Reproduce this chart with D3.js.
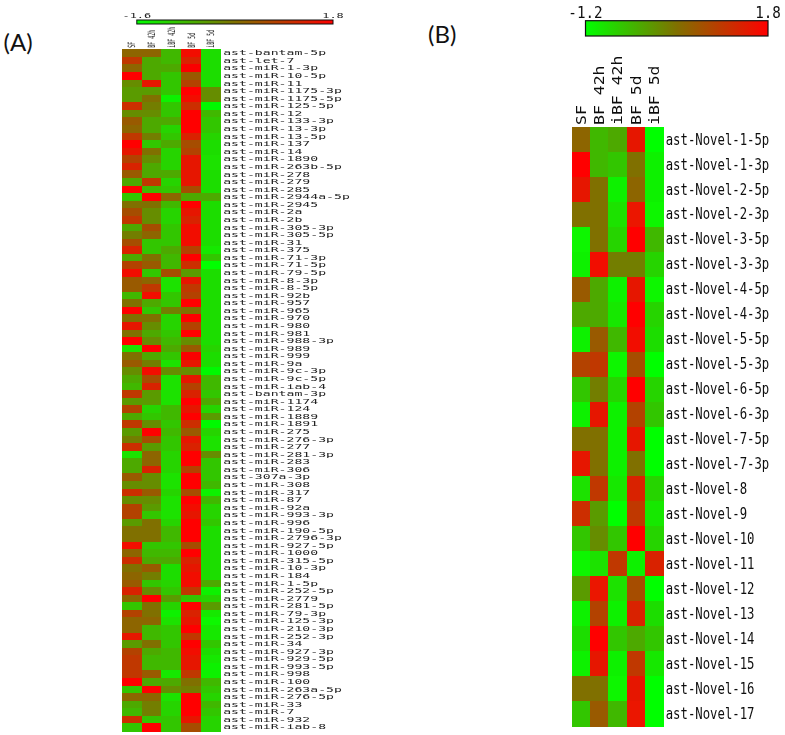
<!DOCTYPE html>
<html><head><meta charset="utf-8">
<script src="https://cdn.jsdelivr.net/npm/d3@7"></script>
<style>html,body{margin:0;padding:0;background:#fff}svg{display:block}</style>
</head><body><svg id="c" width="785" height="735"></svg>
<script>
const samples = ["SF","BF 42h","iBF 42h","BF 5d","iBF 5d"];
const domainA = [-1.6,1.8];
const domainB = [-1.2,1.8];
const mirnaA = ["bantam-5p","let-7","miR-1-3p","miR-10-5p","miR-11","miR-1175-3p","miR-1175-5p","miR-125-5p","miR-12","miR-133-3p","miR-13-3p","miR-13-5p","miR-137","miR-14","miR-1890","miR-263b-5p","miR-278","miR-279","miR-285","miR-2944a-5p","miR-2945","miR-2a","miR-2b","miR-305-3p","miR-305-5p","miR-31","miR-375","miR-71-3p","miR-71-5p","miR-79-5p","miR-8-3p","miR-8-5p","miR-92b","miR-957","miR-965","miR-970","miR-980","miR-981","miR-988-3p","miR-989","miR-999","miR-9a","miR-9c-3p","miR-9c-5p","miR-iab-4","bantam-3p","miR-1174","miR-124","miR-1889","miR-1891","miR-275","miR-276-3p","miR-277","miR-281-3p","miR-283","miR-306","307a-3p","miR-308","miR-317","miR-87","miR-92a","miR-993-3p","miR-996","miR-190-5p","miR-2796-3p","miR-927-5p","miR-1000","miR-315-5p","miR-10-3p","miR-184","miR-1-5p","miR-252-5p","miR-2779","miR-281-5p","miR-79-3p","miR-125-3p","miR-210-3p","miR-252-3p","miR-34","miR-927-3p","miR-929-5p","miR-993-5p","miR-998","miR-100","miR-263a-5p","miR-276-5p","miR-33","miR-7","miR-932","miR-iab-8"].map(d=>"ast-"+d);
const novelB = ["1-5p","1-3p","2-5p","2-3p","3-5p","3-3p","4-5p","4-3p","5-5p","5-3p","6-5p","6-3p","7-5p","7-3p","8","9","10","11","12","13","14","15","16","17"].map(d=>"ast-Novel-"+d);
const valuesA = [
[.27,.27,-.75,1.63,-1.19],[.95,-.58,-.75,1.29,-1.19],[.27,-.58,-.58,1.73,-1.19],[1.8,-.58,-.92,.44,-1.19],[-.24,1.46,-.92,.78,-1.19],
[-.41,-.41,-.92,1.8,-.24],[-.41,.1,-1.43,1.63,-.24],[1.12,-.07,-.92,1.12,-1.53],[-.24,-.24,-.92,1.8,-.75],[.44,-.58,-.58,1.8,-.92],
[.27,-.58,-1.09,1.8,-.92],[.95,-.07,-.92,1.29,-1.09],[1.8,-.92,-.58,.61,-1.19],[1.46,.1,-1.09,.78,-1.19],[.78,-.24,-1.09,1.46,-1.26],
[1.29,-.58,-1.09,1.46,-1.26],[.44,-.58,-.58,1.46,-1.19],[-.58,.95,-1.09,1.46,-1.19],[1.8,-.75,-.92,.61,-1.19],[-.92,1.8,.27,-.58,-.58],
[.1,.1,-.75,1.8,-1.19],[.61,-.24,-1.09,1.46,-1.19],[.95,-.24,-1.09,1.29,-1.19],[-.58,.61,-.92,1.63,-1.19],[-.07,.27,-.92,1.63,-1.19],
[.61,-.92,-.92,1.63,-1.19],[1.29,-.92,-.58,.78,-1.33],[-.58,.1,-.75,1.8,-.92],[.78,.44,-.75,1.12,-1.6],[1.63,-.92,.61,-.41,-1.19],
[.44,.27,-1.26,1.46,-1.19],[.44,.95,-1.26,.95,-1.19],[-.75,1.63,-.92,.78,-1.19],[.1,-.58,-.92,1.8,-1.19],[1.8,-.92,-.07,.1,-1.19],
[.1,.1,-1.09,1.8,-1.19],[1.46,-.24,-1.09,.78,-1.19],[.1,-.58,-.92,1.8,-1.19],[1.8,-.24,-.75,-.24,-1.19],[-1.26,1.8,-.58,.44,-1.09],
[.1,-.58,-.92,1.73,-1.19],[.44,-.07,-1.26,1.46,-1.19],[-.24,1.63,-.24,-.24,-1.53],[-.58,.61,-1.26,1.46,-.75],[-.75,1.29,-1.26,.78,-.75],
[.95,-.41,-1.26,1.29,-.92],[-.41,-.41,-1.26,1.8,-.58],[.78,-1.09,-.75,1.46,-1.09],[-.58,-.92,-.75,1.8,-.41],[.95,-.24,-.92,1.12,-1.53],
[-.41,1.8,-.75,.44,-1.09],[-.07,.61,-.92,1.46,-1.26],[1.12,-.41,-.92,1.29,-1.26],[-1.26,.27,-1.09,1.8,-.24],[-.58,.27,-1.09,1.8,-.92],
[-.58,1.29,-1.09,.78,-.92],[.44,-.24,-1.26,1.8,-.92],[-.24,-.24,-1.26,1.8,-.75],[1.12,.44,-1.09,.61,-1.43],[-.24,-.24,-1.26,1.8,-.75],
[.78,-.41,-1.26,1.63,-1.09],[.78,-.92,-1.26,1.46,-1.09],[-.41,.1,-1.09,1.8,-.92],[.1,.1,-.75,1.8,-1.19],[.1,.1,-.75,1.8,-1.19],
[1.63,-.92,-.92,.61,-1.19],[.27,-.75,-.75,1.8,-1.19],[1.12,-.58,-.58,1.29,-1.19],[.1,.44,-1.19,1.46,-1.19],[.27,-.07,-1.19,1.63,-1.19],
[.44,-.92,-1.09,1.63,-.58],[1.29,-.24,-.92,.95,-1.43],[.27,1.8,-.41,-.92,-1.09],[-.92,.1,-1.09,1.8,-.41],[.78,.1,-1.43,1.29,-1.33],
[.27,.27,-1.26,1.46,-1.5],[.27,-.75,-.92,1.8,-1.33],[1.46,-.75,-.92,.95,-1.33],[-.41,.1,-.92,1.8,-.92],[.78,-.58,-.75,1.63,-1.19],
[.95,-.75,-.75,1.46,-1.33],[.95,-.75,-.75,1.46,-1.43],[.95,.44,-1.33,.95,-1.43],[1.8,-.58,-.58,.1,-.75],[-.92,1.8,-.24,-.07,-.92],
[.27,.27,-1.26,1.8,-1.09],[-.58,-.07,-1.09,1.8,-.75],[-.75,-.07,-1.09,1.8,-.92],[1.12,-.92,-.92,1.46,-1.09],[-.92,1.8,-.92,.61,-1.09]
];
const valuesB = [
[.45,-.45,-.3,1.5,-1.2],[1.8,-.45,-.6,.3,-1.05],[1.5,.3,-1.05,.45,-1.05],[.3,.3,-.9,1.56,-1.11],
[-1.11,.3,-.75,1.8,-.45],[-1.05,1.65,.15,.15,-.75],[.6,-.3,-1.05,1.5,-1.11],[-.3,-.3,-.96,1.8,-.75],
[-1.05,.6,-.45,1.65,-.84],[.9,1.05,-1.11,.75,-1.2],[-.6,.15,-.75,1.8,-.75],[-1.05,1.5,-1.05,.9,-.6],
[.3,.3,-1.05,1.5,-1.2],[1.5,.3,-1.05,.3,-1.2],[-.9,1.05,-.96,1.35,-.75],[1.2,-.15,-1.2,1.05,-.96],
[-.6,0,-.6,1.8,-.75],[-1.11,-.9,1.05,-1.05,1.35],[-.15,1.56,-.9,.75,-1.2],[-1.05,.9,-1.05,1.35,-.84],
[-.84,1.8,-.6,-.3,-.6],[-1.05,1.5,-1.05,1.05,-.96],[.3,.3,-1.11,1.5,-1.2],[-.6,.6,-.45,1.56,-1.2]
];

const svg = d3.select("#c");
const defs = svg.append("defs");
[["softA",.45],["softB",.3]].forEach(([id,s])=>{
  defs.append("filter").attr("id",id).attr("x","-5%").attr("y","-5%").attr("width","110%").attr("height","110%")
    .append("feGaussianBlur").attr("stdDeviation",s);
});
const heatColor = dom => d3.scaleLinear().domain([dom[0],(dom[0]+dom[1])/2,dom[1]]).range(["#00ff00","#807000","#ff0000"]);

function panel(o){
  const color = heatColor(o.domain);
  const x = d3.scaleBand().domain(samples).range(o.xr);
  const y = d3.scaleBand().domain(o.rows).range(o.yr);
  const g = svg.append("g").attr("shape-rendering","crispEdges").attr("filter",`url(#soft${o.id})`);
  o.values.forEach((r,i)=>{
    g.selectAll(null).data(r).join("rect")
      .attr("x",(d,j)=>x(samples[j])).attr("y",y(o.rows[i]))
      .attr("width",x.bandwidth()+.5).attr("height",y.bandwidth()+.5)
      .attr("fill",d=>color(d));
  });
  // row labels
  const ay = svg.append("g").attr("transform",`translate(${o.xr[1]+o.labelGap},0)`)
    .attr("filter",`url(#soft${o.id})`)
    .call(d3.axisRight(y).tickSize(0).tickPadding(0));
  ay.select(".domain").remove();
  ay.selectAll("text").attr("x",0).attr("dy",o.rowDy)
    .attr("font-family","'DejaVu Sans Mono'").attr("font-size",o.rowFont).attr("fill",o.textFill)
    .attr("transform",`scale(${o.rowSx},1)`);
  // column labels
  const ax = svg.append("g").attr("transform",`translate(0,${o.yr[0]-o.headGap})`)
    .attr("filter",`url(#soft${o.id})`)
    .call(d3.axisTop(x).tickSize(0).tickPadding(0));
  ax.select(".domain").remove();
  ax.selectAll("text").attr("x",0).attr("y",0).attr("dy",".36em")
    .attr("text-anchor","start")
    .attr("font-family","'DejaVu Sans Mono'").attr("font-size",o.headFont).attr("fill",o.textFill)
    .attr("transform",`rotate(-90) scale(${o.headSx},1)`);
  // colour bar
  const id = "grad"+o.id;
  const lg = defs.append("linearGradient").attr("id",id);
  lg.append("stop").attr("offset","0").attr("stop-color",color(o.domain[0]));
  lg.append("stop").attr("offset","0.5").attr("stop-color",color((o.domain[0]+o.domain[1])/2));
  lg.append("stop").attr("offset","1").attr("stop-color",color(o.domain[1]));
  const bx = d3.scaleLinear().domain(o.domain).range(o.barX);
  svg.append("rect").attr("x",o.barX[0]).attr("y",o.barY[0])
    .attr("width",o.barX[1]-o.barX[0]).attr("height",o.barY[1]-o.barY[0])
    .attr("fill",`url(#${id})`).attr("stroke","#111").attr("stroke-width",o.barStroke);
  svg.append("g").attr("filter",`url(#soft${o.id})`).selectAll(null).data(o.domain).join("text")
    .attr("transform",d=>`translate(${bx(d)+o.barDx},${o.barLabelY}) scale(${o.barSx},1)`)
    .attr("text-anchor","middle").attr("font-family","'DejaVu Sans Mono'")
    .attr("font-size",o.barFont).attr("fill",o.textFill)
    .text(d=>d3.format(".1f")(d).replace("\u2212","-"));
}

panel({id:"A",rows:mirnaA,values:valuesA,domain:domainA,xr:[121.7,220.7],yr:[49.3,731],
  labelGap:2.5,rowFont:7,rowSx:1.88,rowDy:".32em",headGap:1.5,headFont:10,headSx:.5,textFill:"#222",
  barX:[136.8,333],barY:[20,24],barStroke:1,barDx:0,barLabelY:18,barFont:7,barSx:1.7});
panel({id:"B",rows:novelB,values:valuesB,domain:domainB,xr:[571.5,663.2],yr:[127,726],
  labelGap:2.5,rowFont:15,rowSx:.82,rowDy:".34em",headGap:2,headFont:13.5,headSx:1.22,textFill:"#111",
  barX:[585.5,768],barY:[20.7,36],barStroke:1.2,barDx:0,barLabelY:18,barFont:15,barSx:.95});

svg.selectAll(null).data([["(A)",3.5,51],["(B)",428,43]]).join("text")
  .attr("x",d=>d[1]).attr("y",d=>d[2]).attr("font-family","Lato").attr("font-size",24).attr("fill","#111")
  .text(d=>d[0]);
</script></body></html>
